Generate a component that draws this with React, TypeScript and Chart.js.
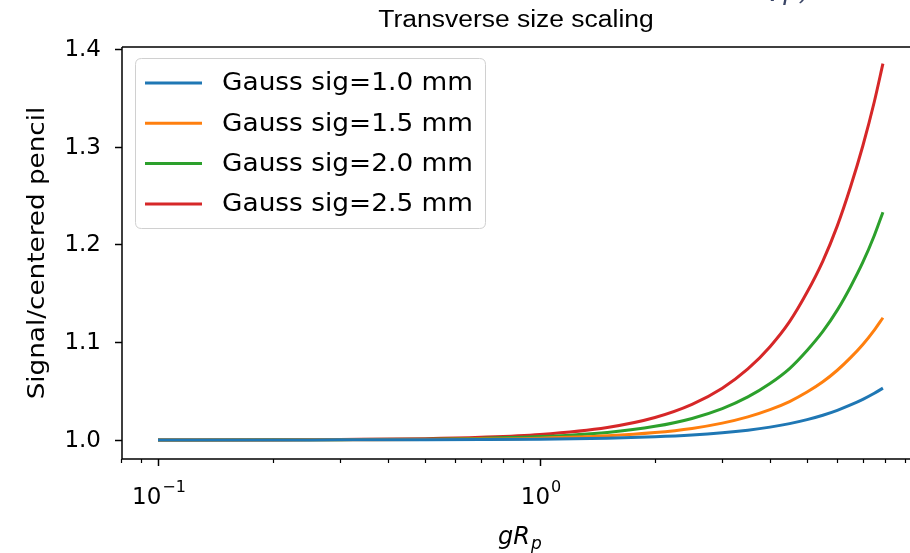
import React, { useEffect, useRef } from "react";
import { Chart, registerables } from "chart.js";

Chart.register(...registerables);

const X_VALUES = [0.1, 0.2, 0.3, 0.5, 0.7, 1, 1.5, 2, 2.5, 3, 3.5, 4, 4.5, 5, 5.5, 6, 6.5, 7, 7.5, 7.9];
const SIG_10 = [1, 1, 1.0001, 1.0002, 1.0004, 1.0008, 1.0018, 1.0032, 1.005, 1.0073, 1.01, 1.0131, 1.0167, 1.0208, 1.0253, 1.0303, 1.0358, 1.0415, 1.0477, 1.053];
const SIG_15 = [1, 1, 1.0002, 1.0004, 1.0009, 1.0018, 1.0042, 1.0075, 1.0118, 1.0172, 1.0236, 1.031, 1.0393, 1.049, 1.0595, 1.0713, 1.0842, 1.0977, 1.1124, 1.125];
const SIG_20 = [1, 1.0001, 1.0003, 1.0008, 1.0016, 1.0034, 1.0077, 1.0139, 1.022, 1.032, 1.044, 1.0577, 1.073, 1.0915, 1.111, 1.1328, 1.1568, 1.1818, 1.2092, 1.233];
const SIG_25 = [1, 1.0001, 1.0005, 1.0013, 1.0027, 1.0056, 1.0128, 1.023, 1.0364, 1.0529, 1.0726, 1.0954, 1.121, 1.151, 1.183, 1.219, 1.259, 1.301, 1.346, 1.385];

const SERIES_LABELS = ["Gauss sig=1.0 mm", "Gauss sig=1.5 mm", "Gauss sig=2.0 mm", "Gauss sig=2.5 mm"];
const SERIES_COLORS = ["#1f77b4", "#ff7f0e", "#2ca02c", "#d62728"];

const X_MAJOR_TICKS = [0.1, 1];
const X_MAJOR_EXPONENTS = ["\u22121", "0"];
const X_MINOR_TICKS = [0.08, 0.09, 0.2, 0.3, 0.4, 0.5, 0.6, 0.7, 0.8, 0.9, 2, 3, 4, 5, 6, 7, 8, 9];
const Y_TICKS = [1.0, 1.1, 1.2, 1.3, 1.4];
const Y_TICK_LABELS = ["1.0", "1.1", "1.2", "1.3", "1.4"];

const TITLE = "Transverse size scaling";
const Y_TITLE = "Signal/centered pencil";

const FONT = "'DejaVu Sans', sans-serif";

function stretchText(ctx: CanvasRenderingContext2D, text: string, x: number, y: number, sx: number) {
  ctx.save();
  ctx.translate(x, y);
  ctx.scale(sx, 1);
  ctx.fillText(text, 0, 0);
  ctx.restore();
}

const mplPlugin = {
  id: "mplDecor",
  afterDatasetsDraw(chart: any) {
    const ctx: CanvasRenderingContext2D = chart.ctx;
    const { left, right, top, bottom } = chart.chartArea;
    const xs = chart.scales.x;
    const ys = chart.scales.y;
    ctx.save();
    ctx.strokeStyle = "#000";
    ctx.fillStyle = "#000";
    ctx.lineWidth = 1.5;
    // spines
    ctx.beginPath();
    ctx.moveTo(left, top);
    ctx.lineTo(right + 5, top);
    ctx.moveTo(left, top);
    ctx.lineTo(left, bottom);
    ctx.lineTo(right + 5, bottom);
    ctx.stroke();

    // y ticks
    ctx.font = `23px ${FONT}`;
    ctx.textAlign = "right";
    ctx.textBaseline = "middle";
    Y_TICKS.forEach((v, i) => {
      const py = Math.round(ys.getPixelForValue(v)) + 0.5;
      ctx.beginPath();
      ctx.moveTo(left, py);
      ctx.lineTo(left - 7, py);
      ctx.stroke();
      ctx.fillText(Y_TICK_LABELS[i], left - 21, py + 1);
    });

    // x ticks
    X_MAJOR_TICKS.forEach((v, i) => {
      const px = Math.round(xs.getPixelForValue(v)) + 0.5;
      ctx.beginPath();
      ctx.moveTo(px, bottom);
      ctx.lineTo(px, bottom + 7);
      ctx.stroke();
      ctx.font = `23px ${FONT}`;
      ctx.textBaseline = "alphabetic";
      ctx.textAlign = "left";
      const base = "10";
      const sup = X_MAJOR_EXPONENTS[i];
      const wb = ctx.measureText(base).width;
      ctx.font = `16px ${FONT}`;
      const ws = ctx.measureText(sup).width;
      const total = wb + ws;
      const x0 = px - total / 2;
      ctx.font = `23px ${FONT}`;
      ctx.fillText(base, x0, bottom + 45);
      ctx.font = `16px ${FONT}`;
      ctx.fillText(sup, x0 + wb + 1, bottom + 33);
    });
    ctx.lineWidth = 1.2;
    X_MINOR_TICKS.forEach((v) => {
      const px = Math.round(xs.getPixelForValue(v)) + 0.5;
      if (px < left - 1) return;
      ctx.beginPath();
      ctx.moveTo(px, bottom);
      ctx.lineTo(px, bottom + 4);
      ctx.stroke();
    });

    // axis titles
    ctx.font = `italic 24px ${FONT}`;
    ctx.textBaseline = "alphabetic";
    const gx = 518;
    const gy = bottom + 85;
    ctx.textAlign = "left";
    const wg = ctx.measureText("gR").width;
    ctx.fillText("gR", gx - wg / 2 - 4, gy);
    ctx.font = `italic 17px ${FONT}`;
    ctx.fillText("p", gx + wg / 2 - 3, gy + 5);

    ctx.save();
    ctx.translate(44, (top + bottom) / 2);
    ctx.rotate(-Math.PI / 2);
    ctx.font = `23px ${FONT}`;
    ctx.textAlign = "center";
    ctx.textBaseline = "alphabetic";
    stretchText(ctx, Y_TITLE, 0, 0, 1.14);
    ctx.restore();

    // title
    ctx.font = `23px 'Liberation Sans', Arial, sans-serif`;
    ctx.textAlign = "center";
    ctx.textBaseline = "middle";
    stretchText(ctx, TITLE, 516, 21, 1.15);

    // partial cut-off label at top right
    ctx.fillStyle = "#3a4566";
    ctx.textAlign = "left";
    ctx.textBaseline = "alphabetic";
    ctx.font = `italic 34px 'DejaVu Serif', serif`;
    ctx.fillText("\u03B7", 758, -6);
    ctx.font = `italic 26px 'DejaVu Serif', serif`;
    ctx.fillText("p,c", 782, 0);

    // legend
    const lx = 135.5, ly = 58.5, lw = 350, lh = 170, r = 6;
    ctx.beginPath();
    ctx.moveTo(lx + r, ly);
    ctx.lineTo(lx + lw - r, ly);
    ctx.quadraticCurveTo(lx + lw, ly, lx + lw, ly + r);
    ctx.lineTo(lx + lw, ly + lh - r);
    ctx.quadraticCurveTo(lx + lw, ly + lh, lx + lw - r, ly + lh);
    ctx.lineTo(lx + r, ly + lh);
    ctx.quadraticCurveTo(lx, ly + lh, lx, ly + lh - r);
    ctx.lineTo(lx, ly + r);
    ctx.quadraticCurveTo(lx, ly, lx + r, ly);
    ctx.closePath();
    ctx.fillStyle = "rgba(255,255,255,0.85)";
    ctx.fill();
    ctx.strokeStyle = "#d0d0d0";
    ctx.lineWidth = 1;
    ctx.stroke();
    chart.data.datasets.forEach((ds: any, i: number) => {
      const ry = 83 + i * 40.3;
      ctx.strokeStyle = ds.borderColor;
      ctx.lineWidth = 3;
      ctx.beginPath();
      ctx.moveTo(145, ry);
      ctx.lineTo(202, ry);
      ctx.stroke();
      ctx.fillStyle = "#000";
      ctx.font = `24px ${FONT}`;
      ctx.textAlign = "left";
      ctx.textBaseline = "middle";
      stretchText(ctx, ds.label, 222, ry + 1, 1.1);
    });
    ctx.restore();
  },
};

export default function App() {
  const ref = useRef<HTMLCanvasElement | null>(null);
  useEffect(() => {
    if (!ref.current) return;
    const seriesList = [SIG_10, SIG_15, SIG_20, SIG_25];
    const chart = new Chart(ref.current, {
      type: "line",
      data: {
        datasets: seriesList.map((s, i) => ({
          label: SERIES_LABELS[i],
          data: X_VALUES.map((x, j) => ({ x, y: s[j] })),
          borderColor: SERIES_COLORS[i],
          backgroundColor: SERIES_COLORS[i],
          borderWidth: 3,
          pointRadius: 0,
          cubicInterpolationMode: "monotone" as const,
          fill: false,
        })),
      },
      options: {
        animation: false,
        responsive: false,
        maintainAspectRatio: false,
        layout: { padding: { left: 122, top: 47, right: 0, bottom: 94 } },
        plugins: { legend: { display: false }, title: { display: false }, tooltip: { enabled: false } },
        scales: {
          x: { type: "logarithmic", min: 0.0805, max: 9.3, display: false },
          y: { type: "linear", min: 0.9805, max: 1.402, display: false },
        },
      },
      plugins: [mplPlugin],
    });
    return () => chart.destroy();
  }, []);
  return (
    <div style={{ position: "absolute", left: 0, top: 0, width: 910, height: 553, background: "#fff" }}>
      <canvas ref={ref} width={910} height={553} style={{ width: 910, height: 553 }} />
    </div>
  );
}
